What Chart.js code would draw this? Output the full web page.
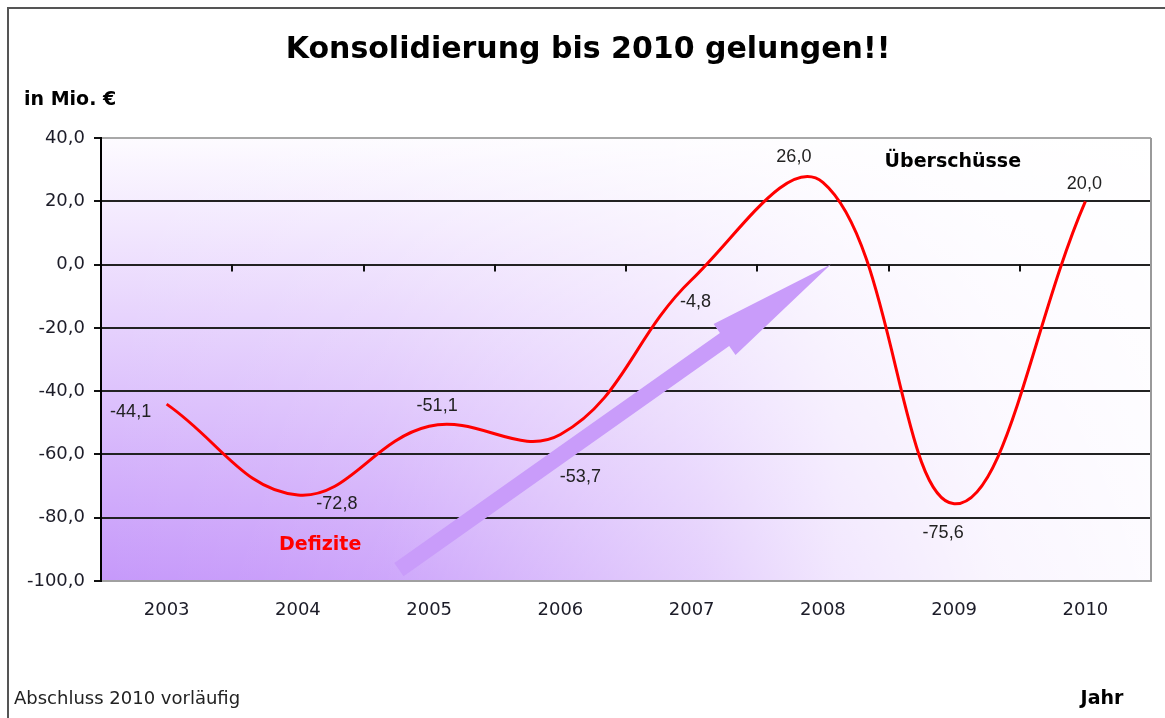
<!DOCTYPE html>
<html lang="de">
<head>
<meta charset="UTF-8">
<title>Konsolidierung bis 2010 gelungen!!</title>
<style>
  body { margin: 0; background: #fff; }
  #wrap { position: relative; width: 1165px; height: 718px; }
</style>
<script src="https://cdn.jsdelivr.net/npm/chart.js"></script>
</head>
<body>
<div id="wrap"><canvas id="chart" width="1165" height="718"></canvas></div>
<script>
// Daten in Mio. €
const jahre = ['2003', '2004', '2005', '2006', '2007', '2008', '2009', '2010'];
const saldo = [-44.1, -72.8, -51.1, -53.7, -4.8, 26.0, -75.6, 20.0];
const yMin = -100, yMax = 40, yStep = 20;

// Lage der Wertbeschriftungen relativ zum Punkt (px)
const labelOffsets = [[-36, 8], [39, 9], [8, -20], [20, 43], [4, 22], [-29, -25], [-11, 29], [-1, -17]];
// Pfeil und Hinweise in Datenkoordinaten (Kategorie-Index, Wert)
const pfeilVon = [1.77, -96.4];
const pfeilBis = [5.06, 0];
const defizitePos = [1.17, -88.5];
const ueberPos = [5.99, 32.5];

const fmt = v => v.toFixed(1).replace('.', ',');
const FONT = 'DejaVu Sans';

Chart.defaults.font.family = FONT;
Chart.defaults.color = '#1c1c28';

// Hintergrund: Verlauf von lila (unten links) nach weiss
const hintergrund = {
  id: 'hintergrund',
  beforeDraw(chart) {
    const { ctx, chartArea: a } = chart;
    ctx.save();
    ctx.fillStyle = '#fff';
    ctx.fillRect(0, 0, chart.width, chart.height);
    const gv = ctx.createLinearGradient(0, a.top, 0, a.bottom);
    gv.addColorStop(0, '#fdfbff');
    gv.addColorStop(1, '#c699fa');
    ctx.fillStyle = gv;
    ctx.fillRect(a.left, a.top, a.right - a.left, a.bottom - a.top);
    const gh = ctx.createLinearGradient(a.left, 0, a.right, 0);
    gh.addColorStop(0, 'rgba(255,255,255,0)');
    gh.addColorStop(0.15, 'rgba(255,255,255,0.05)');
    gh.addColorStop(0.27, 'rgba(255,255,255,0.13)');
    gh.addColorStop(0.57, 'rgba(255,255,255,0.53)');
    gh.addColorStop(0.7, 'rgba(255,255,255,0.76)');
    gh.addColorStop(0.85, 'rgba(255,255,255,0.9)');
    gh.addColorStop(1, 'rgba(255,255,255,0.96)');
    ctx.fillStyle = gh;
    ctx.fillRect(a.left, a.top, a.right - a.left, a.bottom - a.top);
    ctx.restore();
  }
};

// Pfeil hinter der Linie
const pfeil = {
  id: 'pfeil',
  beforeDatasetsDraw(chart) {
    const { ctx, scales: { x, y } } = chart;
    const x0 = x.getPixelForValue(pfeilVon[0]), y0 = y.getPixelForValue(pfeilVon[1]);
    const x1 = x.getPixelForValue(pfeilBis[0]), y1 = y.getPixelForValue(pfeilBis[1]);
    const len = Math.hypot(x1 - x0, y1 - y0);
    const headL = 130, headW = 38, shaftW = 16;
    ctx.save();
    ctx.translate(x0, y0);
    ctx.rotate(Math.atan2(y1 - y0, x1 - x0));
    ctx.beginPath();
    ctx.moveTo(0, -shaftW / 2);
    ctx.lineTo(len - headL, -shaftW / 2);
    ctx.lineTo(len - headL, -headW / 2);
    ctx.lineTo(len, 0);
    ctx.lineTo(len - headL, headW / 2);
    ctx.lineTo(len - headL, shaftW / 2);
    ctx.lineTo(0, shaftW / 2);
    ctx.closePath();
    ctx.fillStyle = '#c99cfa';
    ctx.fill();
    ctx.restore();
  }
};

// Rahmen, Teilstriche an der Nulllinie, Beschriftungen
const beschriftung = {
  id: 'beschriftung',
  afterDraw(chart) {
    const { ctx, chartArea: a, scales: { x, y } } = chart;
    ctx.save();

    // äusserer Rahmen
    ctx.strokeStyle = '#555';
    ctx.lineWidth = 2;
    ctx.beginPath();
    ctx.moveTo(chart.width + 5, 8);
    ctx.lineTo(8, 8);
    ctx.lineTo(8, chart.height + 5);
    ctx.stroke();

    // rechter Rand der Zeichenfläche
    ctx.strokeStyle = '#9a9a9a';
    ctx.beginPath();
    ctx.moveTo(a.right, a.top);
    ctx.lineTo(a.right, a.bottom);
    ctx.stroke();

    // Teilstriche auf der Nulllinie
    const y0 = y.getPixelForValue(0);
    ctx.strokeStyle = '#111';
    ctx.lineWidth = 2;
    for (let i = 0; i < jahre.length - 1; i++) {
      const px = Math.round(x.getPixelForValue(i + 0.5));
      ctx.beginPath();
      ctx.moveTo(px, y0);
      ctx.lineTo(px, y0 + 7);
      ctx.stroke();
    }

    // Wertbeschriftungen
    const meta = chart.getDatasetMeta(0);
    ctx.font = '18px "Liberation Sans"';
    ctx.fillStyle = '#222';
    ctx.textAlign = 'center';
    ctx.textBaseline = 'middle';
    meta.data.forEach((pt, i) => {
      ctx.fillText(fmt(saldo[i]), pt.x + labelOffsets[i][0], pt.y + labelOffsets[i][1]);
    });

    // Titel und Texte
    ctx.fillStyle = '#000';
    ctx.font = 'bold 30px ' + FONT;
    ctx.fillText('Konsolidierung bis 2010 gelungen!!', 588, 50);

    ctx.font = 'bold 19px ' + FONT;
    ctx.fillText('Überschüsse', x.getPixelForValue(ueberPos[0]), y.getPixelForValue(ueberPos[1]));
    ctx.fillText('Jahr', 1102, 699);

    ctx.fillStyle = '#ff0000';
    ctx.fillText('Defizite', x.getPixelForValue(defizitePos[0]), y.getPixelForValue(defizitePos[1]));

    ctx.textAlign = 'left';
    ctx.fillStyle = '#000';
    ctx.fillText('in Mio. €', 24, 100);

    ctx.font = '18px ' + FONT;
    ctx.fillStyle = '#222';
    ctx.fillText('Abschluss 2010 vorläufig', 14, 699);

    ctx.restore();
  }
};

new Chart(document.getElementById('chart'), {
  type: 'line',
  data: {
    labels: jahre,
    datasets: [{
      data: saldo,
      borderColor: '#ff0000',
      borderWidth: 3,
      tension: 0.4,
      pointRadius: 0,
      fill: false
    }]
  },
  options: {
    responsive: false,
    animation: false,
    events: [],
    layout: { padding: { top: 138, left: 0, right: 14, bottom: 87 } },
    plugins: {
      legend: { display: false },
      title: { display: false },
      tooltip: { enabled: false }
    },
    scales: {
      x: {
        offset: true,
        grid: { display: false, drawTicks: false },
        border: { display: true, color: '#a0a0a0', width: 2 },
        ticks: { padding: 19, font: { size: 18 }, maxRotation: 0 },
        afterFit(s) { s.height = 50; }
      },
      y: {
        min: yMin,
        max: yMax,
        border: { display: true, color: '#000', width: 2 },
        grid: {
          color: c => (c.tick.value === yMax ? '#a8a8a8' : (c.tick.value === yMin ? 'rgba(0,0,0,0)' : '#222')),
          lineWidth: 2,
          tickColor: '#111',
          tickLength: 7,
          drawTicks: true
        },
        ticks: {
          stepSize: yStep,
          padding: 9,
          font: { size: 18 },
          callback: v => fmt(v)
        },
        afterFit(s) { s.width = 101; }
      }
    }
  },
  plugins: [hintergrund, pfeil, beschriftung]
});
</script>
</body>
</html>
